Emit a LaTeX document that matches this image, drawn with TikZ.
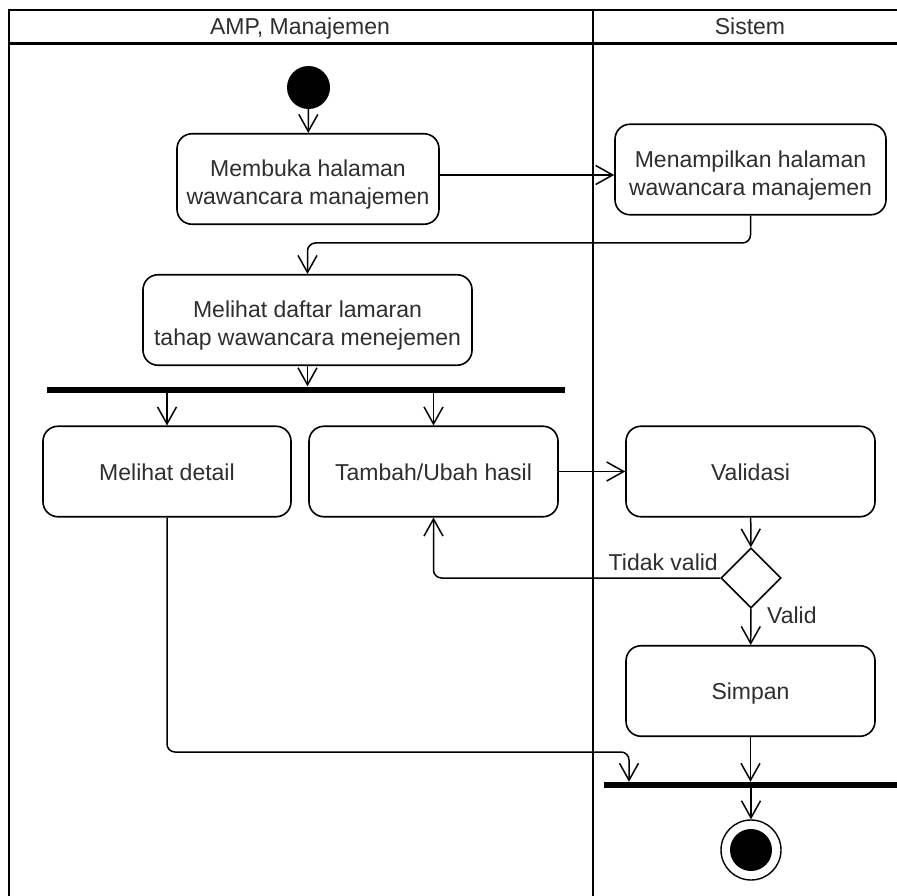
\documentclass[tikz,border=0pt]{standalone}
\usepackage{fontspec}
\setmainfont{Liberation Sans}
\usetikzlibrary{arrows.meta,shapes.geometric}
\newcommand{\lanestrut}{\rule{0pt}{28pt}}
\begin{document}
\begin{tikzpicture}[x=1pt,y=-1pt,
  txt/.style={font=\fontsize{23}{28}\selectfont, text=black!82},
  act/.style={txt, draw, fill=white, line width=1.6pt, rounded corners=15pt, align=center, inner sep=0pt, minimum height=90.5pt},
  one/.style={text height=17pt, text depth=0pt},
  bar/.style={fill=black, inner sep=0pt, minimum height=6pt},
  dec/.style={draw, fill=white, diamond, line width=1.6pt, inner sep=0pt, minimum width=60pt, minimum height=60pt},
  startnode/.style={circle, fill=black, inner sep=0pt, minimum size=43pt},
  endouter/.style={circle, draw, fill=white, line width=1.4pt, inner sep=0pt, minimum size=60pt},
  endinner/.style={circle, fill=black, inner sep=0pt, minimum size=42pt},
  lbl/.style={txt, inner sep=0pt},
  frame/.style={line width=2.5pt, line cap=rect},
  arr/.style={line width=1.5pt, -{Straight Barb[length=17pt,width=19pt]}},
  rarr/.style={arr, rounded corners=8pt}
]
\useasboundingbox (0,0) rectangle (897,896);
\clip (0,0) rectangle (897,896);
\fill[white] (0,0) rectangle (897,896);

% swimlanes
\draw[frame] (9,10) -- (915,10);
\draw[frame] (9,43.5) -- (915,43.5);
\draw[frame] (9,10) -- (9,915);
\draw[frame] (593,10) -- (593,915);
\node[lbl, anchor=base] (h1) at (300,35) {AMP, Manajemen};
\node[lbl, anchor=base] (h2) at (750,35) {Sistem};

% nodes
\node[startnode] (start) at (308.5,87.5) {};
\node[act, minimum width=262pt] (membuka) at (308,179) {\lanestrut Membuka halaman\\wawancara manajemen};
\node[act, minimum width=271pt] (tampil) at (750.5,169.5) {\lanestrut Menampilkan halaman\\wawancara manajemen};
\node[act, minimum width=329pt] (daftar) at (307.5,320) {\lanestrut Melihat daftar lamaran\\tahap wawancara menejemen};
\node[bar, minimum width=518pt] (fork) at (306,389.5) {};
\node[act, one, minimum width=248pt] (detail) at (167,471.5) {Melihat detail};
\node[act, one, minimum width=249pt] (tambah) at (433.5,471.5) {Tambah/Ubah hasil};
\node[act, one, minimum width=249pt] (valid) at (750.5,471.5) {Validasi};
\node[dec] (dec) at (751,578) {};
\node[act, one, minimum width=249pt] (simpan) at (750.5,691) {Simpan};
\node[bar, minimum width=310pt] (join) at (759,785) {};
\node[endouter] (final) at (751,850) {};
\node[endinner] (finalin) at (751,850) {};

% helper coordinates
\coordinate (y175) at (0,175);
\coordinate (yA) at (0,243);
\coordinate (yB) at (0,752);
\coordinate (xJ) at (629,0);

% edges
\draw[arr] (start) -- (membuka);
\draw[arr] (membuka.east |- y175) -- (tampil.west |- y175);
\draw[rarr] (tampil.south) -- (tampil.south |- yA) -- (daftar.north |- yA) -- (daftar.north);
\draw[arr] (daftar.south) -- (daftar.south |- fork.north);
\draw[arr] (detail.north |- fork.south) -- (detail.north);
\draw[arr] (tambah.north |- fork.south) -- (tambah.north);
\draw[arr] (tambah) -- (valid);
\draw[arr] (valid) -- (dec);
\draw[rarr] (dec.west) -| (tambah.south);
\draw[arr] (dec) -- (simpan);
\draw[rarr] (detail.south) -- (detail.south |- yB) -- (xJ |- yB) -- (xJ |- join.north);
\draw[arr] (simpan.south) -- (simpan.south |- join.north);
\draw[arr] (final.north |- join.south) -- (final);

% labels
\node[lbl, anchor=base east] (tv) at (718,570) {Tidak valid};
\node[lbl, anchor=base west] (v) at (767,623) {Valid};
\end{tikzpicture}
\end{document}
